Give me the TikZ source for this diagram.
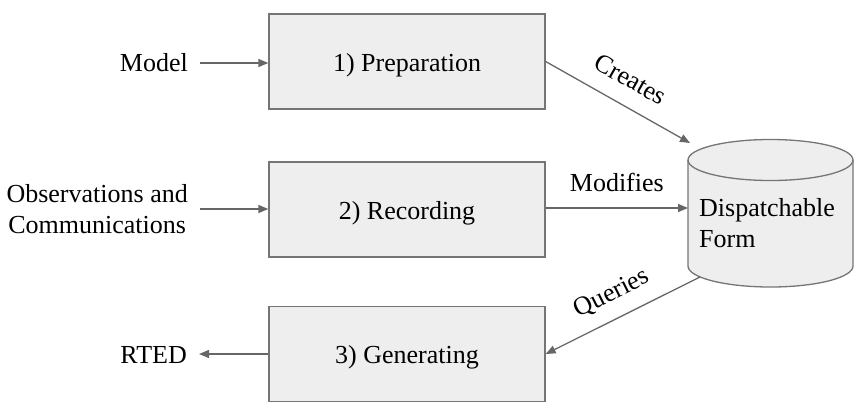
\documentclass[tikz,border=0pt]{standalone}
\usepackage{fontspec}
\setmainfont{Liberation Serif}
\usetikzlibrary{arrows.meta}
\definecolor{boxfill}{HTML}{EEEEEE}
\definecolor{boxline}{HTML}{757575}
\definecolor{arrline}{HTML}{666666}
\begin{document}
\begin{tikzpicture}[x=1pt,y=-1pt,
  stagebox/.style={draw=boxline,fill=boxfill,line width=1.3pt,minimum width=276pt,minimum height=95pt,inner sep=0pt,text height=20pt,text depth=1pt,font=\fontsize{26}{31}\selectfont},
  lbl/.style={inner sep=0pt,text=black,font=\fontsize{26}{31}\selectfont},
  arr/.style={draw=arrline,line width=1.3pt,-{Triangle[length=10pt,width=8pt]},arrline}]
\useasboundingbox (0,0) rectangle (864,416);
% boxes
\node[stagebox] (prep) at (407,61.5) {1) Preparation};
\node[stagebox] (rec) at (407,209.5) {2) Recording};
\node[stagebox] (gen) at (407,354) {3) Generating};
% side labels
\node[lbl,anchor=east] (model) at (188,63) {Model};
\node[lbl,anchor=east,align=center] (obs) at (188,209) {Observations and\\Communications};
\node[lbl,anchor=east] (rted) at (187,355) {RTED};
% cylinder
\draw[draw=boxline,fill=boxfill,line width=1.3pt] (688,160) -- (688,266) arc[start angle=180,end angle=0,x radius=82.5,y radius=21] -- (853,160) arc[start angle=0,end angle=-180,x radius=82.5,y radius=20.5] -- cycle;
\draw[draw=boxline,line width=1.3pt] (688,160) arc[start angle=180,end angle=0,x radius=82.5,y radius=20.5];
\node[lbl,anchor=west,align=left] (dbtext) at (699,223) {Dispatchable\\Form};
\coordinate (dbtop) at (690,143);
\coordinate (dbwest) at (688,208);
\coordinate (dbbot) at (700,277);
% connectors
\draw[arr,shorten <=12pt] (model.east) -- (model.east -| prep.west);
\draw[arr,shorten <=12pt] (obs.east) -- (obs.east -| rec.west);
\draw[arr,shorten >=12pt] (gen.west) -- (gen.west -| rted.east);
\draw[arr] (prep.east) -- node[lbl,sloped,above=17pt] (creates) {Creates} (dbtop);
\draw[arr] (rec.east |- dbwest) -- node[lbl,above=16pt] (modifies) {Modifies} (dbwest);
\draw[arr] (dbbot) -- node[lbl,sloped,above=13pt] (queries) {Queries} (gen.east);
\end{tikzpicture}
\end{document}
